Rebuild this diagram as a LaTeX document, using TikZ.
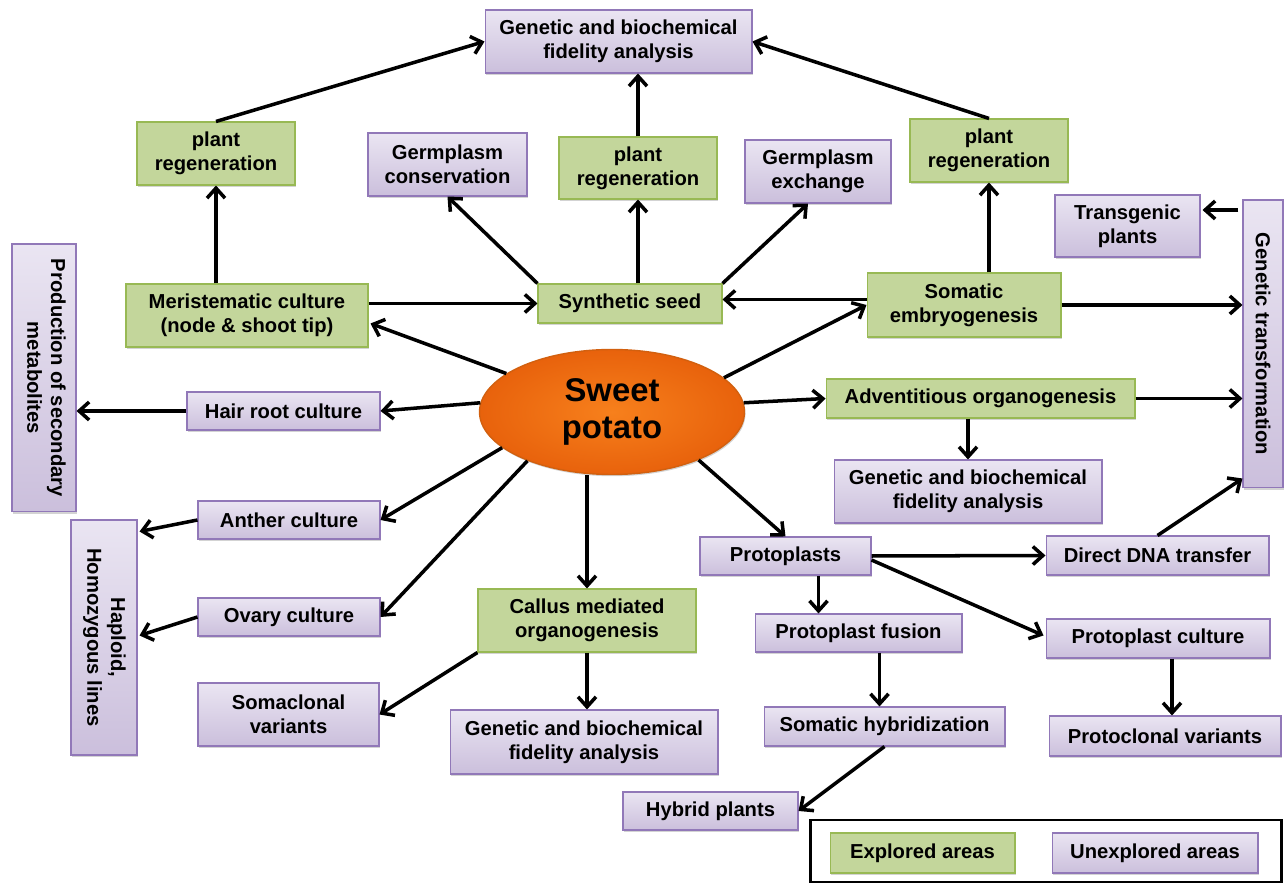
\documentclass[tikz,border=0pt]{standalone}
\usepackage{fontspec}
\setmainfont{Liberation Sans}
\usetikzlibrary{arrows.meta,shapes.geometric,calc,shadows}
\definecolor{gfill}{HTML}{C3D69B}
\definecolor{gdraw}{HTML}{98B954}
\definecolor{ptop}{HTML}{EAE5F2}
\definecolor{pbot}{HTML}{CBBFDC}
\definecolor{pdraw}{HTML}{9178B8}
\definecolor{oin}{HTML}{F7801C}
\definecolor{oout}{HTML}{E8620C}
\definecolor{odraw}{HTML}{D2600F}
\begin{document}
\begin{tikzpicture}[x=0.02cm,y=-0.02cm,
  box/.style={rectangle, inner sep=2pt, align=center, font=\fontsize{11.5}{13.6}\selectfont\bfseries, line width=0.6pt, drop shadow={shadow xshift=0.6pt,shadow yshift=-0.9pt,opacity=0.35}},
  gbox/.style={box, fill=gfill, draw=gdraw},
  pbox/.style={box, top color=ptop, bottom color=pbot, draw=pdraw},
  arr/.style={line width=2pt, -{Straight Barb[length=2mm,width=3.6mm]}},
]
\useasboundingbox (0,0) rectangle (1285,884);
% nodes
\node[pbox,minimum width=5.34cm,minimum height=1.26cm] (GB1) at (618.5,41.5) {Genetic and biochemical\\fidelity analysis};
\node[gbox,minimum width=3.16cm,minimum height=1.26cm] (PR1) at (216,153.5) {plant\\regeneration};
\node[pbox,minimum width=3.18cm,minimum height=1.26cm] (GC) at (447.5,164.5) {Germplasm\\conservation};
\node[gbox,minimum width=3.16cm,minimum height=1.24cm] (PR2) at (638,168) {plant\\regeneration};
\node[pbox,minimum width=2.92cm,minimum height=1.26cm] (GE) at (818,171.5) {Germplasm\\exchange};
\node[gbox,minimum width=3.16cm,minimum height=1.26cm] (PR3) at (989,150.5) {plant\\regeneration};
\node[pbox,minimum width=2.9cm,minimum height=1.24cm] (TP) at (1127.5,226) {Transgenic\\plants};
\node[pbox,minimum width=0.8cm,minimum height=5.76cm] (GT) at (1263,344) {\rotatebox{-90}{Genetic transformation}};
\node[pbox,minimum width=1.28cm,minimum height=5.36cm] (PSM) at (44,378) {\rotatebox{-90}{\begin{tabular}{@{}c@{}}Production of secondary\\metabolites\end{tabular}}};
\node[gbox,minimum width=4.84cm,minimum height=1.26cm] (MC) at (247,315.5) {Meristematic culture\\(node \& shoot tip)};
\node[gbox,minimum width=3.68cm,minimum height=0.78cm] (SS) at (630,303.5) {Synthetic seed};
\node[gbox,minimum width=3.88cm,minimum height=1.28cm] (SE) at (964,305) {Somatic\\embryogenesis};
\node[pbox,minimum width=3.86cm,minimum height=0.76cm] (HRC) at (283.5,411) {Hair root culture};
\node[ellipse, inner color=oin, outer color=oout, draw=odraw, line width=0.8pt, minimum width=5.3cm, minimum height=2.5cm, inner sep=0pt, align=center, font=\fontsize{18.7}{21}\selectfont\bfseries, drop shadow={shadow xshift=0.6pt,shadow yshift=-1pt,opacity=0.35}] (SP) at (612,412) {Sweet\\potato};
\node[gbox,minimum width=6.18cm,minimum height=0.78cm] (AO) at (980.5,398.5) {Adventitious organogenesis};
\node[pbox,minimum width=5.36cm,minimum height=1.26cm] (GB2) at (968,491.5) {Genetic and biochemical\\fidelity analysis};
\node[pbox,minimum width=3.64cm,minimum height=0.76cm] (AC) at (289,520) {Anther culture};
\node[pbox,minimum width=1.32cm,minimum height=4.7cm] (HHL) at (104,637.5) {\rotatebox{-90}{\begin{tabular}{@{}c@{}}Haploid,\\Homozygous lines\end{tabular}}};
\node[pbox,minimum width=3.64cm,minimum height=0.76cm] (OC) at (289,617) {Ovary culture};
\node[gbox,minimum width=4.36cm,minimum height=1.26cm] (CMO) at (587,620.5) {Callus mediated\\organogenesis};
\node[pbox,minimum width=3.42cm,minimum height=0.76cm] (PROT) at (785.5,556) {Protoplasts};
\node[pbox,minimum width=4.46cm,minimum height=0.78cm] (DDT) at (1157.5,555.5) {Direct DNA transfer};
\node[pbox,minimum width=4.14cm,minimum height=0.76cm] (PF) at (858.5,633) {Protoplast fusion};
\node[pbox,minimum width=4.48cm,minimum height=0.78cm] (PC) at (1158,638.5) {Protoplast culture};
\node[pbox,minimum width=3.62cm,minimum height=1.26cm] (SV) at (288.5,714.5) {Somaclonal\\variants};
\node[pbox,minimum width=5.36cm,minimum height=1.28cm] (GB3) at (584,742) {Genetic and biochemical\\fidelity analysis};
\node[pbox,minimum width=4.82cm,minimum height=0.78cm] (SH) at (884.5,726.5) {Somatic hybridization};
\node[pbox,minimum width=4.64cm,minimum height=0.8cm] (PV) at (1165,736) {Protoclonal variants};
\node[pbox,minimum width=3.5cm,minimum height=0.76cm] (HP) at (710.5,811) {Hybrid plants};
% legend
\node[draw, line width=1.7pt, minimum width=9.44cm, minimum height=1.24cm, inner sep=0pt] (LEG) at (1046,851) {};
\node[gbox,minimum width=3.7cm,minimum height=0.8cm] (EA) at (922.5,853) {Explored areas};
\node[pbox,minimum width=4.12cm,minimum height=0.8cm] (UA) at (1155,853) {Unexplored areas};
% connectors
\draw[arr] (PR1.north) -- (GB1.west);
\draw[arr] (PR2.north) -- (PR2.north |- GB1.south);
\draw[arr] (PR3.north) -- (GB1.east);
\draw[arr] (PR1.south |- MC.north) -- (PR1.south);
\draw[arr] (SS.north west) -- (GC.south);
\draw[arr] (PR2.south |- SS.north) -- (PR2.south);
\draw[arr] (SS.north east) -- ($(GE.south)+(-10,0)$);
\draw[arr] (PR3.south |- SE.north) -- (PR3.south);
\draw[arr] ($(GT.west |- TP.east)+(-4,-16)$) -- ($(TP.east)+(2,-16)$);
\draw[arr] (MC.east |- SS.west) -- (SS.west);
\draw[arr] ($(SE.west |- SS.east)+(0,-4)$) -- ($(SS.east)+(0,-4)$);
\draw[arr] (SE.east) -- (SE.east -| GT.west);
\draw[arr] (SP.160) -- ($(MC.east)+(2,8)$);
\draw[arr] (SP.17) -- (SE.west);
\draw[arr] (SP.176) -- (HRC.east);
\draw[arr] (HRC.west) -- (HRC.west -| PSM.east);
\draw[arr] (SP.4) -- (AO.west);
\draw[arr] (AO.east) -- (AO.east -| GT.west);
\draw[arr] (GB2.north |- AO.south) -- (GB2.north);
\draw[arr] (SP.198) -- (AC.east);
\draw[arr] (AC.west) -- ($(HHL.north east)+(2,12)$);
\draw[arr] (SP.210) -- (OC.east);
\draw[arr] (OC.west) -- ($(HHL.east)+(2,-2)$);
\draw[arr] (CMO.north |- SP.south) -- (CMO.north);
\draw[arr] (SP.331) -- (PROT.north);
\draw[arr] (PROT.east) -- (DDT.west);
\coordinate (p1) at ($(PROT.south)+(33,0)$);
\draw[arr] (p1) -- (p1 |- PF.north);
\draw[arr] ($(PROT.east)+(0,4)$) -- ($(PC.west)+(-2,-3)$);
\draw[arr] (DDT.north) -- ($(GT.south west)+(0,-10)$);
\draw[arr] (CMO.south west) -- (SV.east);
\draw[arr] (CMO.south) -- (CMO.south |- GB3.north);
\coordinate (p2) at ($(PF.south)+(21,0)$);
\draw[arr] (p2) -- (p2 |- SH.north);
\coordinate (p3) at ($(PC.south)+(14,0)$);
\draw[arr] (p3) -- (p3 |- PV.north);
\draw[arr] (SH.south) -- (HP.east);
\end{tikzpicture}
\end{document}
